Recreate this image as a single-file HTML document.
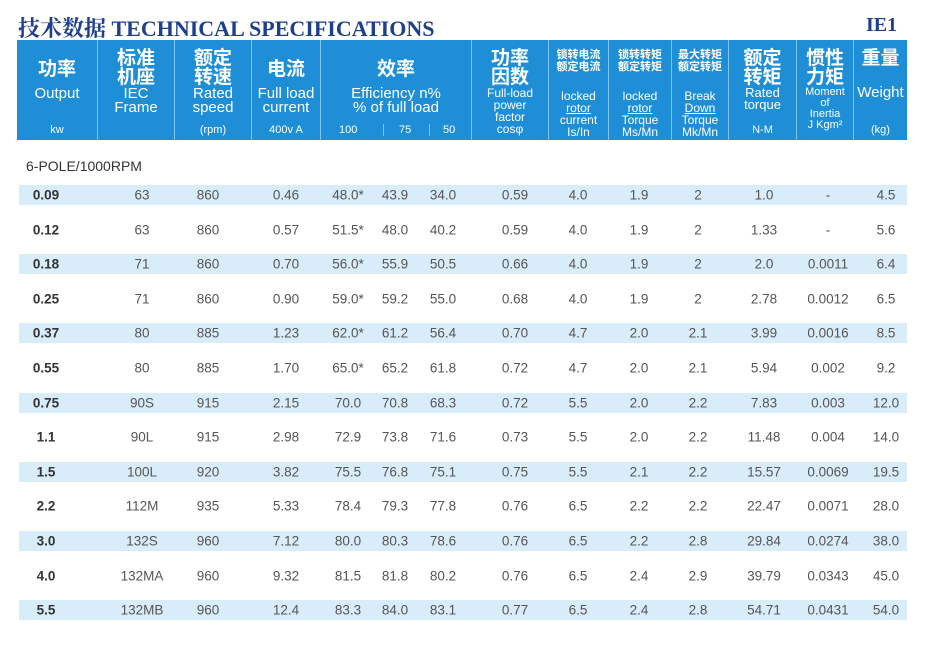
<!DOCTYPE html>
<html><head><meta charset="utf-8">
<style>
body{margin:0;width:930px;height:663px;background:#fff;position:relative;overflow:hidden;font-family:"Liberation Sans","Noto Sans CJK SC",sans-serif;}
.abs{position:absolute;}
#title{left:18px;top:12px;font-family:"Liberation Serif","Noto Serif CJK SC",serif;font-weight:bold;font-size:22px;color:#1d3f8c;white-space:nowrap;}
#ie1{left:866px;top:14px;font-family:"Liberation Serif",serif;font-weight:bold;font-size:20px;color:#1d3f8c;}
#header{left:17px;top:40px;width:890px;height:100px;background:#1e8fd6;}
.hc{position:absolute;top:0;height:100px;border-left:1px solid #7cc3ee;color:#fff;text-align:center;box-sizing:border-box;}
.hc .cn{font-size:19px;font-weight:bold;line-height:19px;margin-top:7px;font-family:"Noto Sans CJK SC",sans-serif;}
.hc .cns{font-size:11px;font-weight:bold;line-height:12px;margin-top:8px;font-family:"Noto Sans CJK SC",sans-serif;}
.hc .en{font-size:15px;line-height:14px;}
.hc .sm{font-size:11px;line-height:12px;position:absolute;bottom:4px;left:0;right:0;}
#pole{left:26px;top:158px;font-size:14px;color:#333;}
.shade{position:absolute;left:19px;width:888px;height:20px;background:#d9ecfa;}
.cell{position:absolute;font-size:13.5px;color:#555;transform:translate(-50%,-50%);white-space:nowrap;}
.cell.b{font-weight:bold;color:#333;}
</style></head><body>
<div id="title" class="abs">技术数据 TECHNICAL SPECIFICATIONS</div>
<div id="ie1" class="abs">IE1</div>
<div id="header" class="abs">
 <div class="hc" style="left:0;width:80px;border-left:none"><div class="cn" style="margin-top:18px">功率</div><div class="en" style="margin-top:10px">Output</div><div class="sm">kw</div></div>
 <div class="hc" style="left:80px;width:77px"><div class="cn">标准<br>机座</div><div class="en" style="margin-top:2px">IEC<br>Frame</div></div>
 <div class="hc" style="left:157px;width:77px"><div class="cn">额定<br>转速</div><div class="en" style="margin-top:2px">Rated<br>speed</div><div class="sm">(rpm)</div></div>
 <div class="hc" style="left:234px;width:69px"><div class="cn" style="margin-top:18px">电流</div><div class="en" style="margin-top:10px">Full load<br>current</div><div class="sm">400v A</div></div>
 <div class="hc" style="left:303px;width:151px"><div class="cn" style="margin-top:18px">效率</div><div class="en" style="margin-top:10px">Efficiency n%<br>% of full load</div><div class="sm"><span style="position:absolute;left:18px">100</span><span style="position:absolute;left:62px;border-left:1px solid #7cc3ee;height:12px"></span><span style="position:absolute;left:78px">75</span><span style="position:absolute;left:108px;border-left:1px solid #7cc3ee;height:12px"></span><span style="position:absolute;left:122px">50</span>&nbsp;</div></div>
 <div class="hc" style="left:454px;width:77px"><div class="cn">功率<br>因数</div><div class="en" style="font-size:12px;line-height:12px;margin-top:2px">Full-load<br>power<br>factor<br>cosφ</div></div>
 <div class="hc" style="left:531px;width:60px"><div class="cns">锁转电流<br>额定电流</div><div class="en" style="font-size:12px;line-height:12px;margin-top:18px">locked<br><u>rotor</u><br>current<br>Is/In</div></div>
 <div class="hc" style="left:591px;width:63px"><div class="cns">锁转转矩<br>额定转矩</div><div class="en" style="font-size:12px;line-height:12px;margin-top:18px">locked<br><u>rotor</u><br>Torque<br>Ms/Mn</div></div>
 <div class="hc" style="left:654px;width:57px"><div class="cns">最大转矩<br>额定转矩</div><div class="en" style="font-size:12px;line-height:12px;margin-top:18px">Break<br><u>Down</u><br>Torque<br>Mk/Mn</div></div>
 <div class="hc" style="left:711px;width:68px"><div class="cn">额定<br>转矩</div><div class="en" style="font-size:13px;line-height:12px;margin-top:2px">Rated<br>torque</div><div class="sm">N-M</div></div>
 <div class="hc" style="left:779px;width:57px"><div class="cn">惯性<br>力矩</div><div class="en" style="font-size:11px;line-height:11px;margin-top:2px">Moment<br>of<br>Inertia<br>J Kgm²</div></div>
 <div class="hc" style="left:836px;width:54px"><div class="cn">重量</div><div class="en" style="margin-top:20px">Weight</div><div class="sm">(kg)</div></div>
</div>
<div id="pole" class="abs">6-POLE/1000RPM</div>
<div id="rows"></div>
<script>
const output=["0.09","0.12","0.18","0.25","0.37","0.55","0.75","1.1","1.5","2.2","3.0","4.0","5.5"];
const frame=["63","63","71","71","80","80","90S","90L","100L","112M","132S","132MA","132MB"];
const speed=["860","860","860","860","885","885","915","915","920","935","960","960","960"];
const current=["0.46","0.57","0.70","0.90","1.23","1.70","2.15","2.98","3.82","5.33","7.12","9.32","12.4"];
const eff100=["48.0*","51.5*","56.0*","59.0*","62.0*","65.0*","70.0","72.9","75.5","78.4","80.0","81.5","83.3"];
const eff75=["43.9","48.0","55.9","59.2","61.2","65.2","70.8","73.8","76.8","79.3","80.3","81.8","84.0"];
const eff50=["34.0","40.2","50.5","55.0","56.4","61.8","68.3","71.6","75.1","77.8","78.6","80.2","83.1"];
const pf=["0.59","0.59","0.66","0.68","0.70","0.72","0.72","0.73","0.75","0.76","0.76","0.76","0.77"];
const lrc=["4.0","4.0","4.0","4.0","4.7","4.7","5.5","5.5","5.5","6.5","6.5","6.5","6.5"];
const lrt=["1.9","1.9","1.9","1.9","2.0","2.0","2.0","2.0","2.1","2.2","2.2","2.4","2.4"];
const bd=["2","2","2","2","2.1","2.1","2.2","2.2","2.2","2.2","2.8","2.9","2.8"];
const torque=["1.0","1.33","2.0","2.78","3.99","5.94","7.83","11.48","15.57","22.47","29.84","39.79","54.71"];
const inertia=["-","-","0.0011","0.0012","0.0016","0.002","0.003","0.004","0.0069","0.0071","0.0274","0.0343","0.0431"];
const weight=["4.5","5.6","6.4","6.5","8.5","9.2","12.0","14.0","19.5","28.0","38.0","45.0","54.0"];
const cols=[[output,46,'b'],[frame,142],[speed,208],[current,286],[eff100,348],[eff75,395],[eff50,443],[pf,515],[lrc,578],[lrt,639],[bd,698],[torque,764],[inertia,828],[weight,886]];
const names=["output","frame","speed","current","eff-100","eff-75","eff-50","power-factor","locked-current","locked-torque","breakdown-torque","rated-torque","inertia","weight"];
const body=document.getElementById('rows');
for(let i=0;i<output.length;i++){
  const cy=195+i*34.6;
  if(i%2===0){const s=document.createElement('div');s.className='shade';s.style.top=(cy-10)+'px';
    
    
    body.appendChild(s);}
  cols.forEach((c,j)=>{const d=document.createElement('div');d.className='cell'+(c[2]?' b':'');
    d.style.left=c[1]+'px';d.style.top=cy+'px';d.textContent=c[0][i];
    
    
    body.appendChild(d);});
}
</script>
</body></html>
